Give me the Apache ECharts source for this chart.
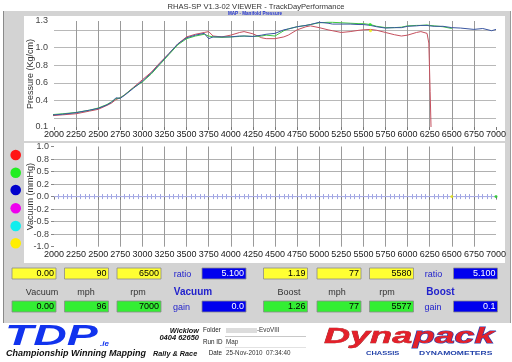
<!DOCTYPE html>
<html><head><meta charset="utf-8">
<script src="https://cdn.jsdelivr.net/npm/echarts@6/dist/echarts.min.js"></script>
<style>
html,body{margin:0;padding:0;background:#fff;}
#wrap{position:relative;width:512px;height:362px;overflow:hidden;background:#fff;}
.bg{position:absolute;}
#chart{position:absolute;left:0;top:0;width:512px;height:362px;}
</style></head><body>
<div id="wrap">
<div class="bg" style="left:3px;top:11px;width:506px;height:312px;background:#d3d3d3;border-left:1px solid #8a8a8a;border-right:1px solid #9a9a9a;"></div>
<div class="bg" style="left:24px;top:16px;width:481px;height:125px;background:#fff;"></div>
<div class="bg" style="left:24px;top:143px;width:481px;height:120px;background:#fff;"></div>
<div id="chart"></div>
</div>
<script>
// ---- data ----
const rpmRed = [1975,2100,2250,2400,2500,2600,2650,2700,2750,2800,2900,3000,3100,3200,3300,3400,3500,3600,3700,3750,3800,3900,4000,4100,4150,4250,4350,4400,4500,4600,4650,4750,4850,4900,5000,5100,5150,5250,5350,5450,5500,5580,5650,5750,5850,5930,6000,6100,6150,6220,6240,6255,6265];
const pressureRed = [0.228,0.238,0.25,0.28,0.30,0.345,0.37,0.41,0.43,0.465,0.55,0.635,0.72,0.83,0.93,1.04,1.12,1.15,1.17,1.18,1.13,1.12,1.14,1.17,1.18,1.155,1.11,1.10,1.10,1.12,1.14,1.20,1.235,1.245,1.225,1.20,1.19,1.17,1.18,1.195,1.20,1.205,1.195,1.17,1.145,1.13,1.14,1.17,1.18,1.16,1.05,0.5,0.1];

const rpmGreen = [1975,2100,2250,2400,2500,2600,2650,2700,2750,2800,2900,3000,3100,3200,3300,3400,3500,3600,3700,3750,3800,3900,4000,4100,4150,4250,4350,4400,4500,4600,4650,4750,4850,4900,5000,5100,5150,5250,5350,5450,5500,5580,5650,5750,5850,5930,6000,6100,6150,6220,6250,6300,6400,6500];
const pressureGreen = [0.24,0.25,0.265,0.29,0.315,0.355,0.385,0.42,0.43,0.465,0.545,0.61,0.70,0.81,0.92,1.03,1.10,1.13,1.15,1.13,1.12,1.115,1.12,1.125,1.13,1.125,1.13,1.14,1.13,1.19,1.21,1.235,1.25,1.26,1.28,1.285,1.285,1.28,1.275,1.27,1.27,1.26,1.24,1.225,1.225,1.23,1.245,1.25,1.25,1.255,1.25,1.245,1.235,1.215];

const rpmBlue = [1975,2100,2250,2400,2500,2600,2650,2700,2750,2800,2900,3000,3100,3200,3300,3400,3500,3600,3700,3750,3800,3900,4000,4100,4150,4250,4350,4400,4500,4600,4650,4750,4850,4900,5000,5100,5150,5250,5350,5450,5500,5580,5650,5750,5850,5930,6000,6100,6150,6220,6250,6300,6400,6500,6600,6750,6850,6950,7000];
const pressureBlue = [0.235,0.245,0.262,0.29,0.31,0.35,0.38,0.43,0.425,0.46,0.54,0.62,0.71,0.82,0.93,1.04,1.11,1.14,1.16,1.10,1.12,1.12,1.12,1.13,1.13,1.125,1.14,1.15,1.16,1.20,1.21,1.235,1.25,1.26,1.285,1.275,1.265,1.265,1.265,1.26,1.26,1.25,1.235,1.22,1.225,1.225,1.24,1.245,1.25,1.25,1.245,1.24,1.24,1.225,1.22,1.205,1.215,1.19,1.205];

const vacuumRpm = [2000, 7000];
const vacuumValues = [0, 0];

// cursor readouts
const boostCursorYellow = [5580, 1.19];
const boostCursorGreen = [5577, 1.26];
const vacuumCursorYellow = [6500, 0];
const vacuumCursorGreen = [7000, 0];

// tick labels
const pressureTickLabels = ['0.1','0.4','0.6','0.8','1.0','1.3'];
const vacuumTickValues = [-1,-0.75,-0.5,-0.25,0,0.25,0.5,0.75,1];
const vacuumTickLabels = ['-1.0','-0.8','-0.5','-0.2','0.0','0.2','0.5','0.8','1.0'];

// readout panel texts
const vacuumYellowRow = ['0.00','90','6500'];
const vacuumGreenRow = ['0.00','96','7000'];
const boostYellowRow = ['1.19','77','5580'];
const boostGreenRow = ['1.26','77','5577'];
const vacuumRatio = '5.100', vacuumGain = '0.0';
const boostRatio = '5.100', boostGain = '0.1';
const columnHeadsLeft = ['Vacuum','mph','rpm'];
const columnHeadsRight = ['Boost','mph','rpm'];
const legendDotColors = ['#ff1414','#22ee22','#0000cc','#ee00ee','#11eeee','#ffee00'];

// ---- chart ----
const FF = 'Liberation Sans, Arial, sans-serif';
const zip = (a, b) => a.map((x, i) => [x, b[i]]);

const chart = echarts.init(document.getElementById('chart'), null, {renderer: 'canvas'});

const xBase = (gi) => ({
  type: 'value', gridIndex: gi, min: 2000, max: 7000, interval: 250,
  axisLine: {show: false},
  axisTick: {show: true, length: 3, lineStyle: {color: '#777'}},
  axisLabel: {fontSize: 9, color: '#222', margin: 3, fontFamily: FF, showMinLabel: true, showMaxLabel: true,
    formatter: v => String(v)},
  splitLine: {show: true, showMinLine: false, showMaxLine: false, lineStyle: {color: '#9a9a9a', width: 1}}
});
const zeroAxis = (gi, pos) => ({
  type: 'value', gridIndex: gi, min: 2000, max: 7000, interval: 250, position: pos,
  axisLine: {show: true, onZero: true, lineStyle: {color: '#a9aee6', width: 1}},
  axisTick: {show: false},
  axisLabel: {show: false},
  splitLine: {show: false},
  minorTick: {show: true, splitNumber: 5, length: 2.5, lineStyle: {color: '#9da3e0', width: 1}}
});

const graphics = [];
function txt(x, y, text, font, fill, align, extra) {
  graphics.push(Object.assign({type: 'text', x: x, y: y, z: 100,
    style: {text: text, font: font, fill: fill, align: align || 'left', verticalAlign: 'middle'}}, extra || {}));
}
function box(x, y, w, h, fill, text, color) {
  graphics.push({type: 'rect', z: 90, shape: {x: x, y: y, width: w, height: h},
    style: {fill: fill, stroke: '#8c8c8c', lineWidth: 0.8}});
  txt(x + w - 2, y + h / 2 + 0.5, text, '9px ' + FF, color, 'right');
}

// titles
txt(256, 6.5, 'RHAS-SP V1.3-02 VIEWER - TrackDayPerformance', '7.6px ' + FF, '#333', 'center');
txt(255, 13.8, 'MAP - Manifold Pressure', 'bold 4.6px ' + FF, '#2233cc', 'center');

// axis names
txt(31, 74, 'Pressure (Kg/cm)', '9px ' + FF, '#333', 'center', {rotation: Math.PI / 2});
txt(31, 196.6, 'Vacuum (mmHg)', '9px ' + FF, '#333', 'center', {rotation: Math.PI / 2});

// legend dots
const dotY = [155, 172.7, 190, 208.3, 226, 243.3];
legendDotColors.forEach((c, i) => graphics.push({type: 'circle', z: 90, shape: {cx: 15.7, cy: dotY[i], r: 5.3}, style: {fill: c}}));

// readout boxes
const leftX = [12, 64.5, 117], rightX = [263.5, 317, 369.5];
const yRow1 = 268, yRow2 = 301, bw = 44, bh = 11;
vacuumYellowRow.forEach((t, i) => box(leftX[i], yRow1, bw, bh, '#ffff33', t, '#000'));
vacuumGreenRow.forEach((t, i) => box(leftX[i], yRow2, bw, bh, '#33ee33', t, '#000'));
boostYellowRow.forEach((t, i) => box(rightX[i], yRow1, bw, bh, '#ffff33', t, '#000'));
boostGreenRow.forEach((t, i) => box(rightX[i], yRow2, bw, bh, '#33ee33', t, '#000'));
box(202, yRow1, bw, bh, '#0000ee', vacuumRatio, '#fff');
box(202, yRow2, bw, bh, '#0000ee', vacuumGain, '#fff');
box(453.5, yRow1, bw, bh, '#0000ee', boostRatio, '#fff');
box(453.5, yRow2, bw, bh, '#0000ee', boostGain, '#fff');
const headLX = [42, 86, 138], headRX = [289, 337, 387];
columnHeadsLeft.forEach((t, i) => txt(headLX[i], 293, t, '9px ' + FF, '#333', 'center'));
columnHeadsRight.forEach((t, i) => txt(headRX[i], 293, t, '9px ' + FF, '#333', 'center'));
txt(182.5, 274.5, 'ratio', '9px ' + FF, '#2222cc', 'center');
txt(181.5, 307.5, 'gain', '9px ' + FF, '#2222cc', 'center');
txt(193, 292.5, 'Vacuum', 'bold 10px ' + FF, '#2222cc', 'center');
txt(433.5, 274.5, 'ratio', '9px ' + FF, '#2222cc', 'center');
txt(433, 307.5, 'gain', '9px ' + FF, '#2222cc', 'center');
txt(440.5, 292.5, 'Boost', 'bold 10px ' + FF, '#2222cc', 'center');

// footer
txt(5, 336.5, 'TDP', 'italic bold 29px ' + FF, '#1133ee', 'left', {scaleX: 1.6});
txt(100, 343.5, '.ie', 'italic bold 8px ' + FF, '#1133ee', 'left');
txt(6, 353.5, 'Championship Winning Mapping', 'italic bold 9px ' + FF, '#111', 'left');
txt(153, 353.5, 'Rally & Race', 'italic bold 7.3px ' + FF, '#111', 'left');
txt(199, 330.5, 'Wicklow', 'italic bold 7.3px ' + FF, '#111', 'right');
txt(199, 338, '0404 62650', 'italic bold 7.5px ' + FF, '#111', 'right');
txt(203, 330.5, 'Folder', '6.3px ' + FF, '#222', 'left');
txt(203, 341.8, 'Run ID', '6.3px ' + FF, '#222', 'left');
txt(222, 353, 'Date', '6.3px ' + FF, '#222', 'right');
graphics.push({type: 'rect', z: 90, shape: {x: 226, y: 328, width: 31, height: 5}, style: {fill: '#dcdcdc'}});
txt(257, 330.5, '-EvoVIII', '6.3px ' + FF, '#333', 'left');
txt(226, 341.8, 'Map', '6.3px ' + FF, '#333', 'left');
txt(226, 353, '25-Nov-2010  07:34:40', '6.3px ' + FF, '#333', 'left');
graphics.push({type: 'line', z: 90, shape: {x1: 225, y1: 336.5, x2: 306, y2: 336.5}, style: {stroke: '#c8c8c8', lineWidth: 1}});
graphics.push({type: 'line', z: 90, shape: {x1: 225, y1: 347.5, x2: 306, y2: 347.5}, style: {stroke: '#e2e2e2', lineWidth: 1}});
txt(324, 337.3, 'Dyna', 'italic bold 22px ' + FF, '#e3202a', 'left', {scaleX: 1.64});
graphics[graphics.length - 1].style.stroke = '#8a1010'; graphics[graphics.length - 1].style.lineWidth = 0.5;
txt(413, 337.3, 'pack', 'italic bold 22px ' + FF, '#e3202a', 'left', {scaleX: 1.62});
graphics[graphics.length - 1].style.stroke = '#2a3fb0'; graphics[graphics.length - 1].style.lineWidth = 1;
txt(366, 353, 'CHASSIS', 'bold 5.8px ' + FF, '#1f3fa8', 'left', {scaleX: 1.29});
txt(419, 353, 'DYNAMOMETERS', 'bold 5.8px ' + FF, '#1f3fa8', 'left', {scaleX: 1.47});

const bottomRect = {left: 54, right: 16, top: 146.5, height: 100.2};
const option = {
  animation: false,
  textStyle: {fontFamily: FF},
  grid: [
    {left: 54, right: 16, top: 21, height: 106},
    Object.assign({}, bottomRect),
    Object.assign({}, bottomRect),
    Object.assign({}, bottomRect)
  ],
  xAxis: [xBase(0), xBase(1), zeroAxis(2, 'bottom'), zeroAxis(3, 'top')],
  yAxis: [
    {type: 'value', gridIndex: 0, min: 0.1, max: 1.3, interval: 0.1,
     axisLine: {show: false}, axisTick: {show: false},
     axisLabel: {fontSize: 9, color: '#444', margin: 6, fontFamily: FF,
       formatter: v => { const s = v.toFixed(1); return pressureTickLabels.includes(s) ? s : ''; }},
     splitLine: {show: true, lineStyle: {color: ['rgba(0,0,0,0)', '#b8b8b8'], width: 1}}},
    {type: 'value', gridIndex: 1, min: -1, max: 1, interval: 0.25,
     axisLine: {show: false}, axisTick: {show: true, length: 3, lineStyle: {color: '#888'}},
     axisLabel: {fontSize: 9, color: '#444', margin: 5, fontFamily: FF,
       formatter: v => { const i = vacuumTickValues.findIndex(t => Math.abs(t - v) < 1e-6); return i >= 0 ? vacuumTickLabels[i] : ''; }},
     splitLine: {show: true, showMinLine: false, showMaxLine: false, lineStyle: {color: '#b0b0b0', width: 1}}},
    {type: 'value', gridIndex: 2, min: -1, max: 1, show: false},
    {type: 'value', gridIndex: 3, min: -1, max: 1, show: false}
  ],
  graphic: {elements: graphics},
  series: [
    {type: 'line', xAxisIndex: 0, yAxisIndex: 0, data: zip(rpmRed, pressureRed), showSymbol: false, symbol: 'none',
     lineStyle: {color: '#c5505e', width: 1}, z: 3},
    {type: 'line', xAxisIndex: 0, yAxisIndex: 0, data: zip(rpmGreen, pressureGreen), showSymbol: false, symbol: 'none',
     lineStyle: {color: '#3ec83e', width: 1}, z: 4},
    {type: 'line', xAxisIndex: 0, yAxisIndex: 0, data: zip(rpmBlue, pressureBlue), showSymbol: false, symbol: 'none',
     lineStyle: {color: '#3a56a0', width: 1}, z: 5},
    {type: 'scatter', xAxisIndex: 0, yAxisIndex: 0, data: [boostCursorYellow], symbolSize: 3, itemStyle: {color: '#f0f000'}, z: 6},
    {type: 'scatter', xAxisIndex: 0, yAxisIndex: 0, data: [boostCursorGreen], symbolSize: 3, itemStyle: {color: '#22dd22'}, z: 6},
    {type: 'line', xAxisIndex: 1, yAxisIndex: 1, data: zip(vacuumRpm, vacuumValues), showSymbol: false, symbol: 'none',
     lineStyle: {color: '#a9aee6', width: 1}, z: 3},
    {type: 'scatter', xAxisIndex: 1, yAxisIndex: 1, data: [vacuumCursorYellow], symbolSize: 3, itemStyle: {color: '#e8e800'}, z: 6},
    {type: 'scatter', xAxisIndex: 1, yAxisIndex: 1, data: [vacuumCursorGreen], symbolSize: 3, itemStyle: {color: '#22cc22'}, z: 6}
  ]
};
chart.setOption(option);
</script>
</body></html>
